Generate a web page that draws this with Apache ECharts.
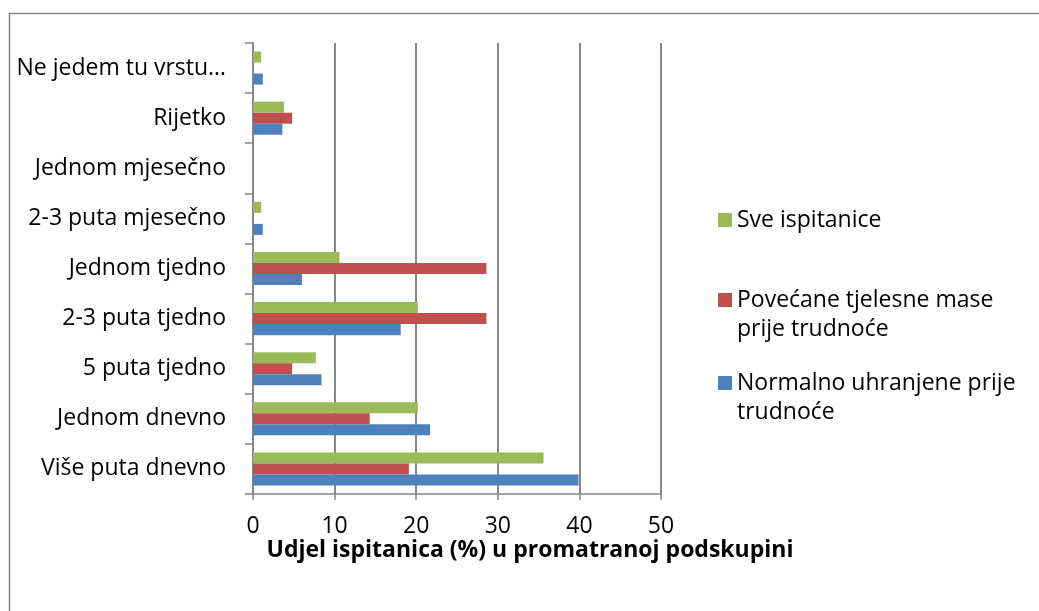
<!DOCTYPE html>
<html>
<head>
<meta charset="utf-8">
<script src="https://cdn.jsdelivr.net/npm/echarts@6/dist/echarts.min.js"></script>
<style>
  html, body { margin: 0; padding: 0; background: #fff; overflow: hidden; }
  #chart { width: 1039px; height: 611px; }
</style>
</head>
<body>
<div id="chart"></div>
<script>
  // kategorije (odozdo prema gore)
  var categories = ['Više puta dnevno', 'Jednom dnevno', '5 puta tjedno', '2-3 puta tjedno', 'Jednom tjedno', '2-3 puta mjesečno', 'Jednom mjesečno', 'Rijetko', 'Ne jedem tu vrstu…']
  var normalno = [39.9, 21.7, 8.4, 18.1, 6.0, 1.2, 0, 3.6, 1.2]
  var povecane = [19.1, 14.3, 4.8, 28.6, 28.6, 0, 0, 4.8, 0]
  var sve = [35.6, 20.2, 7.7, 20.2, 10.6, 1.0, 0, 3.8, 1.0]
  var xTicks = [0, 10, 20, 30, 40, 50]
  var xTitle = 'Udjel ispitanica (%) u promatranoj podskupini'

  var FONT = 'Open Sans'
  var GRAY = '#878787'
  var L = 29

  var legendBase = {
    orient: 'vertical',
    left: 718,
    padding: 0,
    icon: 'rect',
    itemWidth: 14,
    itemHeight: 14,
    itemGap: 0,
    textStyle: { fontFamily: FONT, fontSize: 23, color: '#000', lineHeight: L }
  }

  var option = {
    animation: false,
    textStyle: { fontFamily: FONT },
    graphic: [{
      type: 'rect',
      shape: { x: 9.5, y: 13.5, width: 1100, height: 700 },
      style: { fill: 'none', stroke: GRAY, lineWidth: 1.5 },
      silent: true
    }],
    legend: [
      Object.assign({}, legendBase, { top: 220 - 14.5, data: ['Sve ispitanice'] }),
      Object.assign({}, legendBase, {
        top: 300 - 43.5,
        data: ['Povećane tjelesne mase prije trudnoće'],
        // prazni prvi red da ikona stoji uz prvi red teksta
        formatter: function () { return '\nPovećane tjelesne mase\nprije trudnoće' }
      }),
      Object.assign({}, legendBase, {
        top: 383 - 43.5,
        data: ['Normalno uhranjene prije trudnoće'],
        formatter: function () { return '\nNormalno uhranjene prije\ntrudnoće' }
      })
    ],
    grid: { left: 253, right: 378, top: 43, bottom: 117 },
    xAxis: {
      type: 'value',
      min: xTicks[0],
      max: xTicks[xTicks.length - 1],
      interval: 10,
      // naslov osi je u originalu pomaknut udesno od sredine
      name: '{t|' + xTitle + '}',
      nameLocation: 'middle',
      nameGap: 45,
      nameMoveOverlap: false,
      nameTextStyle: {
        rich: {
          t: { fontFamily: FONT, fontSize: 23, fontWeight: 'bold', color: '#000', padding: [0, 0, 0, 146] }
        }
      },
      axisLine: { show: true, lineStyle: { color: GRAY, width: 1.5 } },
      axisTick: { show: true, length: 6, lineStyle: { color: GRAY, width: 1.5 } },
      axisLabel: { fontFamily: FONT, fontSize: 23, color: '#000', margin: 21 },
      splitLine: { show: true, lineStyle: { color: GRAY, width: 2 } }
    },
    yAxis: {
      type: 'category',
      data: categories,
      axisLine: { show: true, lineStyle: { color: GRAY, width: 2 } },
      axisTick: { show: true, length: 8, lineStyle: { color: GRAY, width: 1.5 } },
      axisLabel: { fontFamily: FONT, fontSize: 23, color: '#000', margin: 27, interval: 0 },
      splitLine: { show: false }
    },
    series: [
      {
        name: 'Sve ispitanice',
        type: 'bar',
        data: sve,
        barGap: 0,
        barCategoryGap: '34%',
        itemStyle: { color: '#9BBB59' }
      },
      {
        name: 'Povećane tjelesne mase prije trudnoće',
        type: 'bar',
        data: povecane,
        barGap: 0,
        barCategoryGap: '34%',
        itemStyle: { color: '#C0504D' }
      },
      {
        name: 'Normalno uhranjene prije trudnoće',
        type: 'bar',
        data: normalno,
        barGap: 0,
        barCategoryGap: '34%',
        itemStyle: { color: '#4F81BD' }
      }
    ]
  }

  var chart = echarts.init(document.getElementById('chart'))
  chart.setOption(option)
  window.addEventListener('resize', function () {
    chart.resize()
  })
</script>
</body>
</html>
